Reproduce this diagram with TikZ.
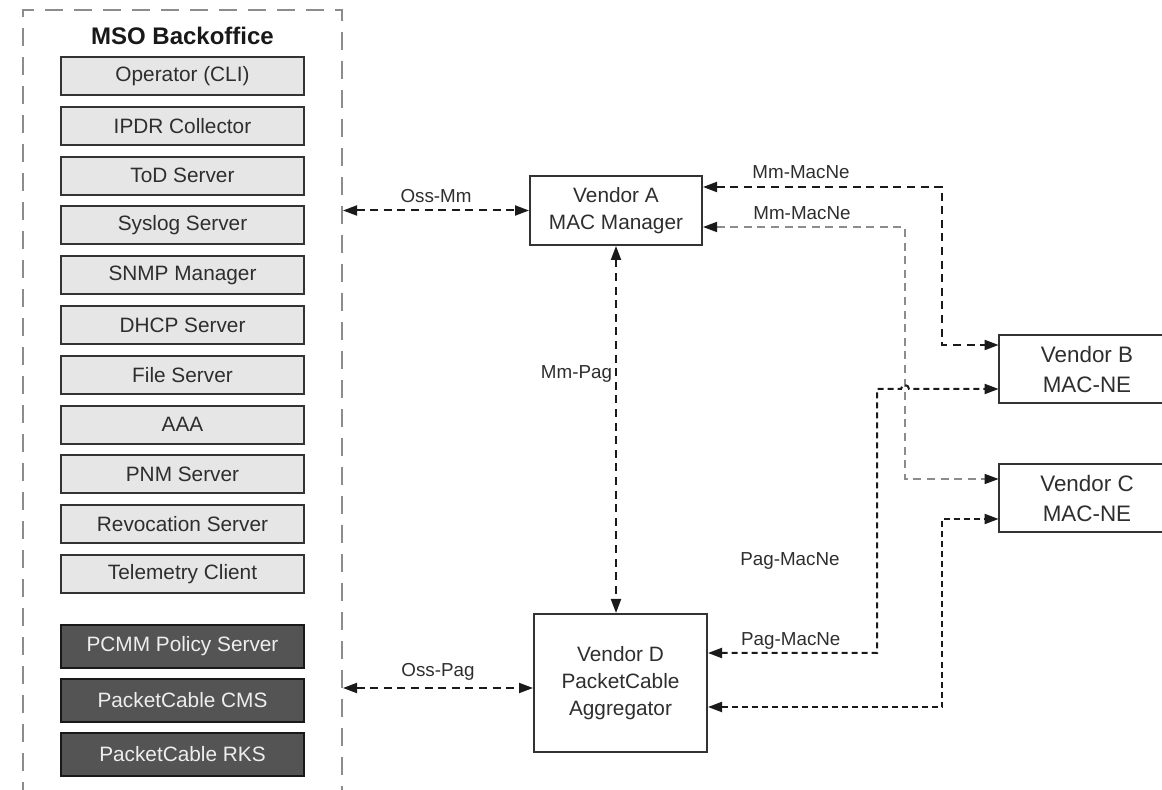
\documentclass[tikz,border=0pt]{standalone}
\usepackage{fontspec}
\setmainfont{Liberation Sans}
\usepackage{tikz}
\usetikzlibrary{positioning,arrows.meta}
\definecolor{txtgray}{HTML}{2E2E2E}
\definecolor{boxline}{HTML}{333333}
\definecolor{srvfill}{HTML}{E6E6E6}
\definecolor{pcfill}{HTML}{545454}
\definecolor{pctext}{HTML}{EEEEEE}
\definecolor{linecol}{HTML}{1A1A1A}

\begin{document}
\begin{tikzpicture}[x=0.5pt, y=-0.5pt, node distance=4.9pt,
  every node/.style={font=\fontsize{10.4pt}{13.5pt}\selectfont, text=txtgray},
  >={Triangle[length=7pt, width=5pt, color=linecol]}]
\tikzstyle{srv}=[draw=boxline, fill=srvfill, line width=1pt, minimum width=121.5pt, minimum height=19pt, inner sep=0pt]
\tikzstyle{pcsrv}=[srv, draw=black!90, fill=pcfill, text=pctext, minimum height=21.5pt]
\tikzstyle{vendor}=[draw=boxline, line width=1pt, align=center, inner sep=0pt]
\tikzstyle{macne}=[align=center, inner sep=0pt, minimum width=88pt, minimum height=34pt, font=\fontsize{11.2pt}{15pt}\selectfont]
\tikzstyle{lbl}=[font=\fontsize{9.4pt}{11pt}\selectfont, inner sep=1.5pt]
\tikzstyle{link}=[<->, line width=1pt, draw=linecol, dash pattern=on 4pt off 2.8pt]
\tikzstyle{linkfine}=[link, dash pattern=on 3pt off 2pt]
\tikzstyle{linkgray}=[link, draw=black!45, line width=0.8pt]
\useasboundingbox (0,0) rectangle (1162,790);
\clip (0,0) rectangle (1162,790);
% backoffice frame
\draw[black!45, line width=0.75pt, dash pattern=on 9pt off 5.5pt] (23,800) -- (23,10) -- (342,10) -- (342,800);
\coordinate (msoR) at (343,0);
\node[font=\fontsize{12pt}{14pt}\selectfont\bfseries, text=black!90] (mso) at (182.5,36) {MSO Backoffice};
\node[srv] (cli) at (182.5,76) {Operator (CLI)};
\node[srv, below=of cli] (ipdr) {IPDR Collector};
\node[srv, below=of ipdr] (tod) {ToD Server};
\node[srv, below=of tod] (syslog) {Syslog Server};
\node[srv, below=of syslog] (snmp) {SNMP Manager};
\node[srv, below=of snmp] (dhcp) {DHCP Server};
\node[srv, below=of dhcp] (file) {File Server};
\node[srv, below=of file] (aaa) {AAA};
\node[srv, below=of aaa] (pnm) {PNM Server};
\node[srv, below=of pnm] (revoc) {Revocation Server};
\node[srv, below=of revoc] (telem) {Telemetry Client};
\node[pcsrv, below=15pt of telem] (pcmm) {PCMM Policy Server};
\node[pcsrv, below=4.5pt of pcmm] (cms) {PacketCable CMS};
\node[pcsrv, below=4.5pt of cms] (rks) {PacketCable RKS};
% vendor boxes
\node[vendor, minimum width=86pt, minimum height=34.5pt] (va) at (616,210.5) {Vendor A\\MAC Manager};
\node[vendor, minimum width=86.5pt, minimum height=69pt] (vd) at (620.5,683) {Vendor D\\PacketCable\\Aggregator};
\node[macne] (vb) at (1087,369) {Vendor B\\MAC-NE};
\node[macne] (vc) at (1087,498) {Vendor C\\MAC-NE};
% B and C run past the right edge
\draw[boxline, line width=1pt] (vb.north east) -- (vb.north west) -- (vb.south west) -- (vb.south east);
\draw[boxline, line width=1pt] (vc.north east) -- (vc.north west) -- (vc.south west) -- (vc.south east);
\coordinate (pagin) at ([yshift=-2.5pt]vd.west);
% interfaces
\draw[link] (msoR |- va.west) -- (va.west) node[lbl, midway, above=2pt] {Oss-Mm};
\draw[link] (msoR |- pagin) -- (pagin) node[lbl, midway, above=2pt] {Oss-Pag};
\draw[link] (va.south) -- (va.south |- vd.north) node[lbl, pos=0.35, left] {Mm-Pag};
\draw[link] ([yshift=11.75pt]va.east) -- ++(239,0) node[lbl, pos=0.41, above=2pt] {Mm-MacNe} |- ([yshift=12pt]vb.west);
\draw[linkgray] ([yshift=-8.25pt]va.east) -- ++(202,0) node[lbl, pos=0.49, above=2pt] {Mm-MacNe} |- ([yshift=9.5pt]vc.west);
\draw[linkfine] ([yshift=15pt]vd.east) -- ++(169,0) node[lbl, pos=0.49, above] {Pag-MacNe}
  -- ++(0,-264) -- ++(24,0) arc[start angle=180, end angle=0, radius=2pt] -- ([yshift=-10pt]vb.west);
\draw[linkfine] ([yshift=-12pt]vd.east) -- ++(234,0) |- ([yshift=-10.5pt]vc.west);
\node[lbl] (pagnote) at (790,561) {Pag-MacNe};
\end{tikzpicture}
\end{document}
